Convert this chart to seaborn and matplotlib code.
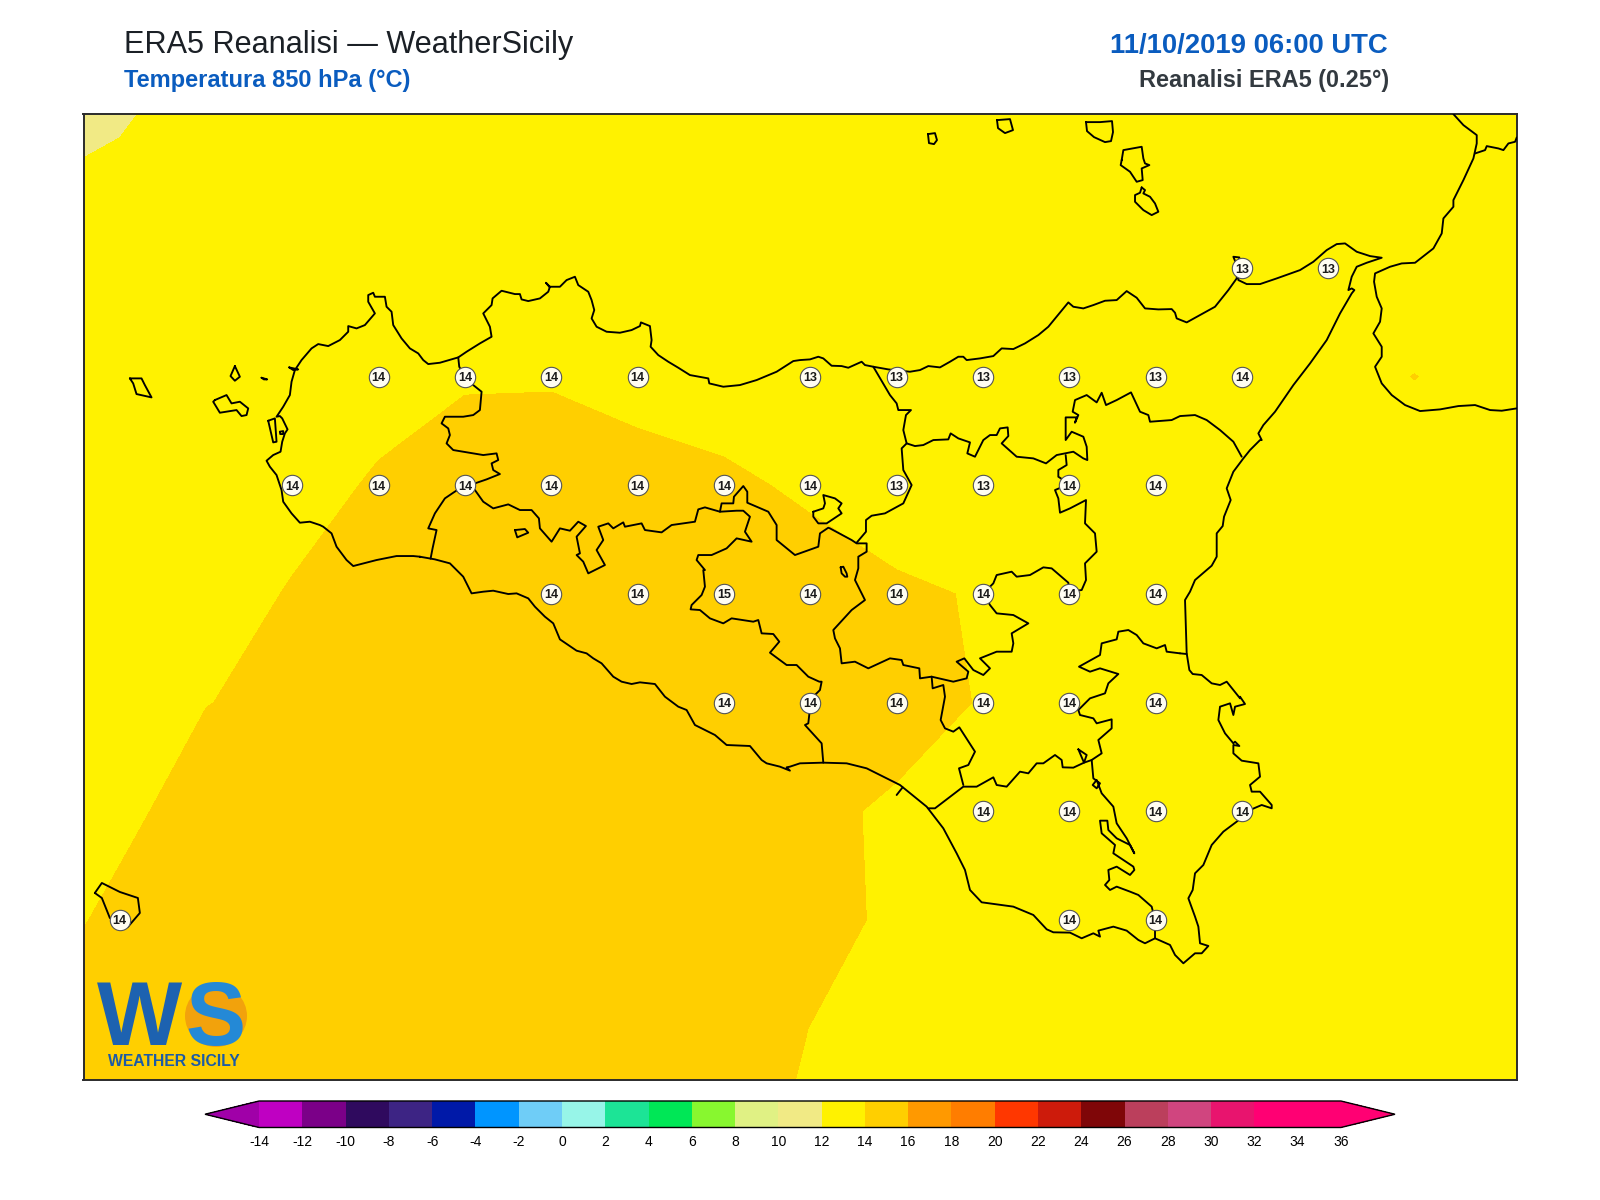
import numpy as np
import pandas as pd
import matplotlib
matplotlib.use("Agg")
import matplotlib.pyplot as plt
from matplotlib.patches import Circle
import seaborn as sns

sns.set_theme(style="white")
plt.rcParams['font.family'] = ['Liberation Sans', 'DejaVu Sans']

# griglia ERA5 0.25 gradi
grid_lon = [11.75, 12.0, 12.25, 12.5, 12.75, 13.0, 13.25, 13.5, 13.75, 14.0, 14.25, 14.5, 14.75, 15.0, 15.25, 15.5, 15.75, 16.0, 16.25]
grid_lat = [38.75, 38.5, 38.25, 38.0, 37.75, 37.5, 37.25, 37.0, 36.75, 36.5, 36.25]

t850_r0 = [11.40, 11.70, 12.10, 12.5, 12.8, 13, 13, 13, 13, 13, 13, 13, 13, 13, 13, 13, 13, 13, 13]
t850_r1 = [11.91, 12.075, 12.6, 13, 13.2, 13.2, 13.2, 13.2, 13.2, 13.2, 13.1, 13.1, 13, 13, 13, 13, 13, 13, 13]
t850_r2 = [12.6, 13, 13.2, 13.4, 13.5, 13.5, 13.6, 13.6, 13.5, 13.4, 13.3, 13.2, 13.1, 13, 13, 13, 12.96, 13, 13]
t850_r3 = [13.1, 13.3, 13.5, 13.6, 13.7, 13.9, 13.92, 13.8, 13.6, 13.4, 13.4, 13.4, 13.4, 13.45, 13.6, 13.3, 14.03, 13.3, 13.3]
t850_r4 = [13.2, 13.4, 13.6, 13.7, 14.09, 14.49, 14.49, 14.22, 14.14, 13.88, 13.4, 13.4, 13.6, 13.6, 13.6, 13.4, 13, 13.2, 13.2]
t850_r5 = [13.2, 13.4, 13.63, 14.06, 14.3, 14.4, 14.45, 14.45, 14.55, 14.34, 14.17, 13.92, 13.8, 13.7, 13.6, 13.5, 13.5, 13.5, 13.5]
t850_r6 = [13.3, 13.7, 13.98, 14.2, 14.4, 14.48, 14.45, 14.45, 14.45, 14.4, 14.3, 13.955, 13.8, 13.7, 13.6, 13.6, 13.6, 13.6, 13.6]
t850_r7 = [13.4, 13.8, 14.37, 14.4, 14.4, 14.4, 14.4, 14.4, 14.4, 14.165, 13.89, 13.7, 13.7, 13.7, 13.7, 13.6, 13.6, 13.6, 13.6]
t850_r8 = [13.64, 14.2, 14.4, 14.4, 14.4, 14.4, 14.4, 14.4, 14.3, 14.13, 13.93, 13.8, 13.8, 13.8, 13.7, 13.7, 13.7, 13.7, 13.7]
t850_r9 = [14.1, 14.4, 14.4, 14.4, 14.4, 14.4, 14.4, 14.3, 14.2, 13.995, 13.9, 13.8, 13.8, 13.8, 13.8, 13.8, 13.8, 13.8, 13.8]
t850_r10 = [14.4, 14.4, 14.4, 14.3, 14.3, 14.3, 14.2, 14.2, 14.1, 13.95, 13.9, 13.8, 13.8, 13.8, 13.8, 13.8, 13.8, 13.8, 13.8]

# valori stampati sulla mappa
lat_38_25 = ([15.25, 15.5], [13, 13])
lat_38_00 = ([12.75, 13.0, 13.25, 13.5, 14.0, 14.25, 14.5, 14.75, 15.0, 15.25], [14, 14, 14, 14, 13, 13, 13, 13, 13, 14])
lat_37_75 = ([12.5, 12.75, 13.0, 13.25, 13.5, 13.75, 14.0, 14.25, 14.5, 14.75, 15.0], [14, 14, 14, 14, 14, 14, 14, 13, 13, 14, 14])
lat_37_50 = ([13.25, 13.5, 13.75, 14.0, 14.25, 14.5, 14.75, 15.0], [14, 14, 15, 14, 14, 14, 14, 14])
lat_37_25 = ([13.75, 14.0, 14.25, 14.5, 14.75, 15.0], [14, 14, 14, 14, 14, 14])
lat_37_00 = ([14.5, 14.75, 15.0, 15.25], [14, 14, 14, 14])
lat_36_75 = ([12.0, 14.75, 15.0], [14, 14, 14])

levels = list(range(-14, 38, 2))
band_colors = ['#bf00c2', '#7b0088', '#2f0a5e', '#3d2484', '#0019a8', '#0095ff', '#6fcdf7', '#97f5e8',
               '#1ce496', '#00e756', '#88f72f', '#e0f184', '#f1ea85', '#fff200', '#ffcf00', '#ff9900',
               '#ff7d00', '#ff3700', '#cd1b0b', '#7f0608', '#bb3f5c', '#d0457f', '#e8146e', '#ff0073', '#ff0073']
under_color = '#a000a8'
over_color = '#ff0073'


def crop(x0, y0, pts, k=3):
    # coste ricalcate a mano -> lon/lat
    a = np.array(pts, dtype=float)
    px = x0 + a[:, 0] / k
    py = y0 + a[:, 1] / k
    return np.column_stack([12.5 + (px - 292.5) / 345.2, 38.0 - (py - 376.7) / 434.4])


def ring(x0, y0, pts, k=3):
    return crop(x0, y0, list(pts) + [pts[0]], k)


sicily = np.vstack([
    crop(120, 270, [(900, 860), (880, 858), (830, 858), (770, 870), (700, 888), (680, 870), (650, 830), (635, 790), (610, 770), (600, 765),
                    (570, 755), (540, 758), (515, 730), (490, 695), (485, 660), (470, 615), (450, 590), (440, 572), (460, 555), (482, 545),
                    (487, 515), (495, 490), (503, 478), (487, 445), (480, 438), (470, 440), (490, 410), (510, 375), (515, 335), (525, 300),
                    (545, 270), (575, 235), (595, 222), (625, 228), (660, 210), (685, 185), (685, 168), (710, 175), (735, 165), (765, 130),
                    (745, 95), (745, 75), (760, 68), (765, 80), (795, 80), (800, 110), (815, 125), (820, 165), (845, 205), (870, 235),
                    (895, 250), (910, 270), (925, 282), (960, 278), (1015, 262), (1040, 245), (1080, 220), (1115, 200), (1110, 170),
                    (1090, 130), (1115, 105), (1118, 85), (1145, 62)]),
    crop(460, 270, [(165, 72), (180, 72), (185, 88), (205, 93), (240, 85), (265, 65), (270, 50), (258, 38), (268, 50), (300, 50), (320, 30),
                    (345, 20), (355, 45), (385, 65), (395, 90), (403, 120), (395, 145), (410, 170), (440, 185), (480, 188), (515, 180),
                    (540, 168), (543, 157), (570, 168), (575, 210), (572, 230), (595, 255), (625, 275), (655, 293), (690, 315), (745, 325),
                    (748, 340), (790, 350), (840, 345), (890, 330), (950, 305), (1000, 273), (1020, 270), (1050, 268), (1075, 260),
                    (1090, 265), (1115, 287), (1145, 288), (1165, 293)]),
    crop(800, 230, [(185, 395), (195, 405), (220, 410), (265, 418), (330, 425), (360, 420), (385, 408), (420, 412), (450, 395), (475, 380),
                    (490, 380), (500, 390), (540, 385), (580, 378), (605, 355), (640, 357), (675, 340), (715, 315), (745, 290), (805, 217),
                    (820, 230), (850, 235), (880, 225), (915, 212), (950, 210), (980, 183), (1010, 203), (1035, 235), (1075, 238),
                    (1115, 237), (1125, 248), (1130, 265), (1160, 277)]),
    crop(1100, 100, [(300, 645), (345, 620), (385, 570), (410, 535), (412, 500), (400, 470), (418, 472), (415, 500), (415, 540), (440, 552),
                     (480, 552), (530, 535), (600, 510), (640, 485), (680, 450), (710, 432), (735, 430), (770, 455), (810, 468), (845, 473),
                     (800, 488), (770, 500), (755, 530), (745, 570), (755, 565), (763, 570), (755, 580), (720, 640), (680, 720), (630, 790),
                     (580, 855), (525, 935), (490, 975), (475, 1000), (485, 1020)]),
    crop(1000, 400, [(780, 120), (750, 150), (730, 175), (700, 215), (680, 265), (692, 300), (672, 350), (668, 378), (650, 400), (650, 470),
                     (635, 497), (585, 540), (570, 575), (555, 600), (560, 760), (568, 810), (578, 822), (605, 825), (635, 850), (660, 855),
                     (680, 845), (720, 895)]),
    crop(900, 690, [(1020, 20), (1035, 42), (1005, 50), (1000, 75), (990, 40), (960, 50), (955, 90), (975, 130), (1000, 160), (1005, 155),
                    (1018, 168), (1000, 165), (1000, 190), (1025, 212), (1075, 220), (1080, 260), (1050, 285), (1055, 305), (1080, 305),
                    (1115, 345), (1115, 355), (1085, 345), (1050, 360), (1010, 395), (970, 425), (935, 465), (910, 525), (885, 550),
                    (878, 600), (865, 625), (885, 680), (895, 710), (900, 760), (925, 768), (905, 790), (885, 790), (850, 820), (825, 795),
                    (810, 765), (765, 745), (735, 760), (715, 750), (680, 722), (640, 710), (595, 722), (600, 740), (580, 730), (545, 745),
                    (510, 728), (460, 727), (440, 718), (400, 675), (340, 650), (245, 637), (210, 600), (195, 540), (170, 490), (130, 415),
                    (80, 350), (0, 285)]),
    crop(780, 480, [(340, 905), (260, 865), (200, 850), (130, 848), (60, 850), (30, 860), (20, 862)]),
    crop(420, 480, [(1110, 872), (1080, 860), (1040, 850), (1025, 840), (990, 798), (920, 795), (885, 765), (825, 735), (800, 690), (775, 680),
                    (735, 650), (705, 612), (660, 607), (635, 612), (605, 605), (580, 590), (545, 550), (520, 535), (500, 520), (470, 512),
                    (420, 478), (400, 430), (375, 410), (345, 380), (325, 355), (290, 340), (265, 342), (220, 332), (190, 335), (155, 340),
                    (130, 290), (90, 250), (45, 238), (0, 230)]),
])

borders = [
    crop(120, 270, [(1015, 262), (1018, 290), (1035, 320), (1060, 345), (1085, 365), (1080, 420), (1060, 435), (1030, 440), (1000, 440),
                    (975, 440), (965, 460), (985, 475), (990, 495), (980, 520), (1000, 540), (1090, 555), (1130, 550), (1135, 570),
                    (1115, 580), (1120, 600), (1140, 612), (1100, 628), (1065, 640), (1035, 645), (1000, 668), (975, 685), (945, 730),
                    (925, 775), (950, 780), (938, 835), (932, 866)]),
    np.vstack([
        crop(460, 270, [(15, 640), (45, 660), (70, 695), (100, 715), (145, 703), (180, 720), (215, 720), (237, 745), (240, 775), (275, 815),
                        (300, 775), (330, 782), (355, 755), (378, 768), (350, 800), (360, 850), (350, 855), (370, 875), (385, 910), (435, 885),
                        (410, 840), (430, 810), (415, 770), (445, 760), (460, 775), (490, 757), (495, 770), (545, 760), (555, 780), (605, 787),
                        (635, 765), (705, 755), (715, 718), (735, 712), (780, 725), (830, 722), (850, 722), (870, 740), (855, 785), (875, 815),
                        (830, 805), (800, 835), (755, 855), (715, 855), (710, 870), (735, 900)]),
        crop(420, 480, [(850, 270), (855, 320), (845, 345), (815, 375), (812, 388), (840, 390), (870, 415), (910, 430), (935, 415), (1000, 425),
                        (1015, 420), (1025, 460), (1060, 462), (1078, 485), (1050, 518), (1100, 555), (1130, 555), (1165, 590)]),
        crop(780, 480, [(118, 605), (125, 605), (120, 630), (100, 650), (92, 668), (85, 730), (75, 735), (125, 790), (130, 848)]),
    ]),
    np.vstack([
        crop(460, 270, [(780, 725), (785, 700), (820, 700), (822, 680), (850, 648), (862, 665), (862, 698), (925, 725), (950, 765), (950, 810),
                        (1005, 855), (1075, 830), (1080, 790), (1105, 773)]),
        crop(780, 480, [(150, 145), (215, 180), (230, 190), (260, 190), (260, 215), (235, 230), (235, 265), (225, 300), (245, 340),
                        (255, 360), (215, 390), (160, 450), (165, 475), (180, 505), (185, 550), (225, 545), (265, 565), (330, 535), (365, 540),
                        (370, 555), (418, 565), (420, 595), (455, 590), (520, 605), (560, 595), (565, 575), (530, 545), (553, 535), (580, 570),
                        (610, 585), (630, 565), (600, 535), (650, 515), (695, 515), (700, 490), (695, 460), (745, 430), (700, 405), (650, 400),
                        (630, 375), (610, 340), (640, 310), (650, 285), (695, 275), (710, 290), (750, 285), (790, 262), (815, 265), (865, 308),
                        (868, 335), (905, 330), (918, 300), (915, 250), (950, 215), (945, 160), (915, 130), (918, 60), (870, 85), (840, 98),
                        (835, 55), (825, 30)]),
        crop(800, 230, [(808, 762), (775, 740), (775, 720), (800, 705), (797, 675)]),
    ]),
    crop(780, 480, [(455, 590), (458, 625), (490, 615), (495, 650), (482, 720), (495, 745), (520, 755), (538, 742), (585, 815), (565, 855),
                    (537, 865), (550, 915)]),
    crop(780, 480, [(350, 945), (368, 922)]),
    crop(900, 690, [(85, 355), (105, 355), (190, 290), (230, 290), (280, 262), (290, 285), (320, 290), (360, 245), (385, 250), (410, 220), (430, 220),
                    (465, 195), (485, 210), (488, 232), (520, 233), (552, 218), (575, 210), (605, 190), (595, 150), (635, 115), (635, 88), (590, 100),
                    (580, 85), (540, 75), (535, 60), (510, 38)]),
    ring(900, 690, [(535, 178), (560, 195), (552, 218)]),
    crop(780, 480, [(868, 665), (895, 690), (930, 655), (975, 640), (985, 610), (1015, 582), (960, 565), (930, 575), (897, 560), (960, 525), (965, 490), (1010, 478),
                    (1015, 455), (1045, 450), (1070, 465), (1090, 490), (1130, 505), (1155, 495), (1160, 515), (1200, 520)]),
    crop(1000, 400, [(540, 760), (560, 762)]),
    crop(900, 690, [(575, 210), (580, 265), (600, 280), (590, 295), (578, 285), (590, 270), (605, 310), (640, 350), (650, 400), (680, 445), (703, 490),
                    (690, 465), (650, 445), (625, 420), (622, 392), (600, 392), (605, 430), (645, 465), (640, 490), (700, 530), (703, 540), (690, 555),
                    (650, 530), (625, 540), (628, 570), (615, 585), (630, 600), (650, 590), (690, 605), (715, 615), (755, 650), (765, 690), (765, 745)]),
    crop(800, 230, [(220, 410), (270, 495), (290, 520), (295, 540), (333, 540), (318, 555), (310, 600), (320, 640), (305, 655), (310, 720), (335, 765),
                    (310, 820), (255, 850), (215, 857), (198, 870), (198, 905), (170, 938)]),
    np.vstack([
        crop(800, 230, [(320, 640), (345, 648), (370, 645), (400, 630), (445, 628), (452, 610), (475, 625), (510, 637), (502, 670), (525, 680), (550, 630),
                        (570, 615), (590, 615), (600, 595), (623, 592), (625, 618), (605, 640), (650, 680), (700, 685), (738, 700), (770, 675), (820, 665),
                        (850, 685), (862, 690), (860, 650), (850, 620), (815, 605), (797, 630), (797, 562), (830, 562), (825, 578), (835, 555), (818, 545),
                        (825, 510), (860, 495), (890, 517), (905, 488), (918, 525), (950, 510), (993, 487), (1020, 545), (1045, 555), (1050, 575)]),
        crop(1000, 400, [(515, 60), (540, 48), (585, 45), (620, 60), (660, 90), (700, 125), (725, 170)]),
    ]),
]

islands = [
    ring(120, 270, [(30, 325), (65, 325), (75, 345), (95, 382), (50, 372), (40, 340)]),
    ring(120, 270, [(285, 390), (320, 375), (335, 400), (360, 395), (385, 415), (380, 435), (365, 438), (350, 420), (300, 428), (280, 395)]),
    ring(120, 270, [(345, 288), (360, 320), (345, 332), (332, 318)]),
    ring(120, 270, [(425, 323), (432, 328), (442, 328)]),
    ring(120, 270, [(508, 292), (535, 298), (520, 300)]),
    ring(120, 270, [(445, 452), (465, 445), (470, 515), (460, 517)]),
    ring(120, 270, [(480, 485), (490, 483), (490, 492), (481, 492)]),
    ring(780, 480, [(100, 95), (130, 85), (135, 70), (130, 45), (165, 55), (185, 70), (175, 85), (185, 100), (140, 130), (115, 130), (100, 110)]),
    ring(780, 480, [(182, 262), (190, 260), (200, 280), (202, 290), (195, 290), (185, 280)]),
    ring(420, 480, [(285, 150), (315, 147), (325, 158), (292, 172)]),
    ring(1100, 100, [(65, 180), (70, 150), (125, 140), (130, 175), (135, 190), (148, 195), (125, 205), (128, 240), (110, 245), (90, 215), (62, 195)]),
    ring(1100, 100, [(125, 262), (135, 270), (130, 280), (150, 290), (165, 310), (175, 335), (155, 345), (130, 330), (105, 305), (105, 285), (120, 278)]),
    ring(0, 0, [(1086, 122), (1100, 122), (1112, 121), (1113, 132), (1111, 141), (1105, 142), (1094, 137), (1087, 131)], k=1),
    ring(0, 0, [(997, 120), (1010, 119), (1013, 130), (1005, 133), (998, 128)], k=1),
    ring(0, 0, [(928, 134), (935, 133), (937, 140), (934, 144), (929, 143)], k=1),
    ring(0, 0, [(95, 893), (102, 883), (120, 892), (138, 898), (140, 913), (128, 927), (110, 918), (102, 898)], k=1),
]

calabria = [
    crop(1100, 100, [(1060, 42), (1090, 75), (1130, 105), (1130, 130), (1120, 175), (1090, 240), (1060, 300), (1060, 320), (1030, 355), (1025, 400),
                     (1000, 445), (945, 488), (905, 490), (870, 500), (825, 520), (822, 545), (830, 590), (845, 625), (840, 665), (820, 700), (845, 740),
                     (845, 770), (825, 800), (845, 850), (875, 885), (915, 915), (960, 933), (1020, 928), (1075, 918), (1125, 915), (1170, 930),
                     (1205, 932), (1250, 925)]),
    crop(1100, 100, [(1125, 160), (1155, 150), (1160, 138), (1195, 145), (1210, 150), (1225, 130), (1245, 125), (1250, 112)]),
]

lon2d = np.array(grid_lon)
lat2d = np.array(grid_lat)
t850 = np.array([t850_r0, t850_r1, t850_r2, t850_r3, t850_r4, t850_r5, t850_r6, t850_r7, t850_r8, t850_r9, t850_r10])

rows = []
for lat, (lons, vals) in zip([38.25, 38.0, 37.75, 37.5, 37.25, 37.0, 36.75],
                             [lat_38_25, lat_38_00, lat_37_75, lat_37_50, lat_37_25, lat_37_00, lat_36_75]):
    for lo, v in zip(lons, vals):
        rows.append({'lon': lo, 'lat': lat, 'val': v})
stations = pd.DataFrame(rows)

fig = plt.figure(figsize=(16, 12), dpi=100, facecolor='white')
W, H = 1600.0, 1200.0
ax = fig.add_axes([83.5 / W, 1 - 1079.5 / H, (1517 - 83.5) / W, (1079.5 - 114) / H])

cf = ax.contourf(lon2d, lat2d, t850, levels=levels, colors=[under_color] + band_colors + [over_color], extend='both')

for seg in [sicily] + borders + islands + calabria:
    ax.plot(seg[:, 0], seg[:, 1], color='black', lw=1.35, solid_joinstyle='round', zorder=3)

sns.scatterplot(data=stations, x='lon', y='lat', s=215, color='#fffdf2', edgecolor='#555555', linewidth=0.8,
                legend=False, ax=ax, zorder=5)
for _, r in stations.iterrows():
    ax.text(r['lon'], r['lat'], f"{int(r['val'])}", ha='center', va='center_baseline', fontsize=9, fontweight='bold',
            color='#1a1a1a', zorder=6)

ax.set_xlim(11.895, 16.047)
ax.set_ylim(36.382, 38.605)
ax.set_xlabel('')
ax.set_ylabel('')
ax.set_xticks([])
ax.set_yticks([])
for s in ax.spines.values():
    s.set_visible(True)
    s.set_color('#2b2b2b')
    s.set_linewidth(1.4)

# logo
ax.add_patch(Circle((2.16, (H - 1016) / 100), 0.31, transform=fig.dpi_scale_trans, facecolor='#f2a20c', edgecolor='none', zorder=7))
fig.text(97 / W, 1 - 1045 / H, 'W', fontsize=65, fontweight='bold', color='#1d62b0', ha='left', va='baseline', zorder=8)
fig.text(185 / W, 1 - 1045 / H, 'S', fontsize=65, fontweight='bold', color='#2489d6', ha='left', va='baseline', zorder=8)
fig.text(174 / W, 1 - 1066 / H, 'WEATHER SICILY', fontsize=11.3, fontweight='bold', color='#1c5ba6', ha='center', va='baseline', zorder=8)

# titoli
fig.text(124 / W, 1 - 53.5 / H, 'ERA5 Reanalisi — WeatherSicily', fontsize=22.05, color='#1b2026', ha='left', va='baseline')
fig.text(124 / W, 1 - 87.3 / H, 'Temperatura 850 hPa (°C)', fontsize=17.05, fontweight='bold', color='#0a5cbf', ha='left', va='baseline')
fig.text(1388 / W, 1 - 53.5 / H, '11/10/2019 06:00 UTC', fontsize=19.8, fontweight='bold', color='#0a5cbf', ha='right', va='baseline')
fig.text(1389 / W, 1 - 87.3 / H, 'Reanalisi ERA5 (0.25°)', fontsize=16.95, fontweight='bold', color='#333a40', ha='right', va='baseline')

# barra colori
cax = fig.add_axes([205 / W, 1 - 1127.5 / H, (1395 - 205) / W, 26.5 / H])
cb = fig.colorbar(cf, cax=cax, orientation='horizontal', ticks=levels, extend='both', extendfrac=0.05, drawedges=False)
cb.ax.set_xticklabels([str(v) for v in levels])
cb.ax.tick_params(length=0, pad=5.5, labelsize=10, colors='black')
cb.outline.set_edgecolor('black')
cb.outline.set_linewidth(1.0)

fig.savefig('out.png', dpi=100, facecolor='white')
